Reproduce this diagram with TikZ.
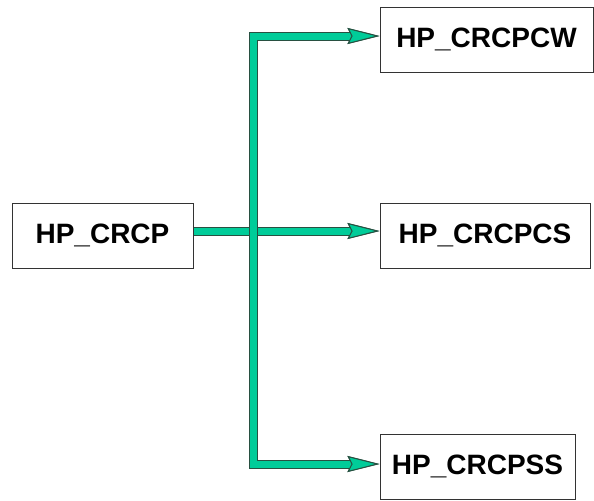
\documentclass[tikz,border=0pt]{standalone}
\usepackage{fontspec}
\setmainfont{Liberation Sans}
\usetikzlibrary{arrows.meta}
\definecolor{busgreen}{RGB}{0,204,153}
\definecolor{busedge}{RGB}{40,80,65}
\begin{document}
\begin{tikzpicture}[x=0.5pt,y=-0.5pt,
    font=\fontsize{14}{16}\selectfont\bfseries,
    box/.style={draw=black!80,line width=0.5pt,inner sep=0pt,minimum height=32.5pt},
    bushead/.tip={Stealth[length=16pt,width=8pt,inset=2pt,fill=busgreen,color=busedge,line width=0.5pt]},
    flow/.style={draw=busgreen,line width=3.5pt,line join=miter,
       preaction={draw=busedge,line width=4.5pt}}]
    \useasboundingbox (0,0) rectangle (594,500);
    % boxes
    \node[box,minimum width=90.5pt] (crcp) at (102.5,235.5) {HP\_CRCP};
    \node[box,minimum width=106.5pt] (cw) at (486.5,39.5) {HP\_CRCPCW};
    \node[box,minimum width=105pt] (cs) at (485,235.5) {HP\_CRCPCS};
    \node[box,minimum width=97.5pt] (ss) at (477.5,466.5) {HP\_CRCPSS};
    % bus
    \coordinate (top) at (253,36);
    \coordinate (mid) at (253,231);
    \coordinate (bot) at (253,464);
    \draw[flow,-{bushead}] (crcp.east |- mid) -- (mid -| cs.west);
    \draw[flow,{bushead}-{bushead}] (top -| cw.west) -- (top) -- (bot) -- (bot -| ss.west);
\end{tikzpicture}
\end{document}
